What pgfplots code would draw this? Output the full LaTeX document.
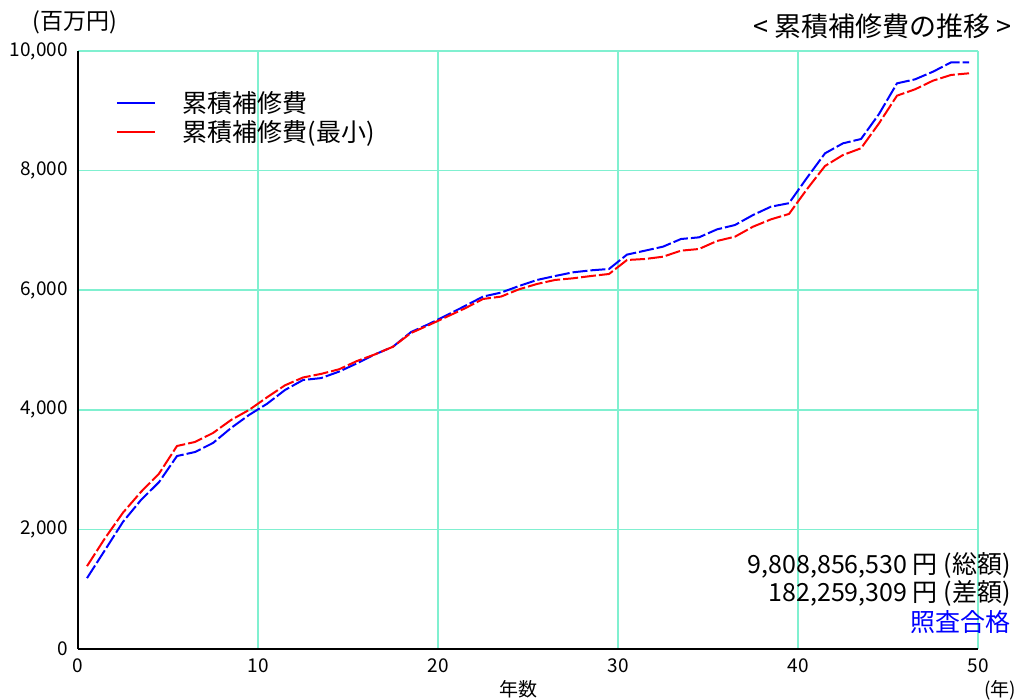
\documentclass[border=0pt]{standalone}
\usepackage{fontspec}
\setmainfont{Noto Sans CJK JP}
\usepackage{pgfplots}
\pgfplotsset{compat=1.18}
\definecolor{gridc}{RGB}{128,240,208}
\pgfplotstableread{
x y
0.5 1185
1.5 1655
2.5 2127
3.5 2492
4.5 2790
5.5 3227
6.5 3294
7.5 3445
8.5 3695
9.5 3913
10.5 4100
11.5 4331
12.5 4498
13.5 4530
14.5 4638
15.5 4777
16.5 4927
17.5 5055
18.5 5300
19.5 5435
20.5 5585
21.5 5736
22.5 5893
23.5 5960
24.5 6070
25.5 6171
26.5 6237
27.5 6299
28.5 6332
29.5 6355
30.5 6595
31.5 6661
32.5 6728
33.5 6856
34.5 6884
35.5 7017
36.5 7090
37.5 7257
38.5 7397
39.5 7455
40.5 7880
41.5 8289
42.5 8456
43.5 8528
44.5 8946
45.5 9459
46.5 9526
47.5 9654
48.5 9809
49.5 9809
}\blueTable
\pgfplotstableread{
x y
0.5 1385
1.5 1853
2.5 2280
3.5 2628
4.5 2932
5.5 3395
6.5 3462
7.5 3612
8.5 3829
9.5 3997
10.5 4208
11.5 4410
12.5 4540
13.5 4600
14.5 4677
15.5 4816
16.5 4927
17.5 5055
18.5 5284
19.5 5418
20.5 5557
21.5 5697
22.5 5853
23.5 5893
24.5 6015
25.5 6104
26.5 6171
27.5 6199
28.5 6237
29.5 6271
30.5 6505
31.5 6522
32.5 6560
33.5 6661
34.5 6689
35.5 6823
36.5 6895
37.5 7062
38.5 7185
39.5 7275
40.5 7690
41.5 8077
42.5 8261
43.5 8373
44.5 8790
45.5 9253
46.5 9359
47.5 9504
48.5 9599
49.5 9627
}\redTable
\begin{document}
\begin{tikzpicture}[x=1pt,y=1pt]
\useasboundingbox (0,0) rectangle (1019,699);
\begin{axis}[
  at={(78pt,50pt)}, anchor=south west,
  scale only axis, width=900pt, height=598pt,
  xmin=0, xmax=50, ymin=0, ymax=10000,
  xtick={0,10,...,50}, ytick={0,2000,...,10000},
  grid=major, major grid style={gridc, line width=1.5pt},
  axis lines*=left, axis line style={black, line width=1.8pt},
  major tick length=0pt,
  /pgf/number format/assume math mode=true,
  /pgf/number format/1000 sep={,},
  scaled y ticks=false,
  ticklabel style={font=\fontsize{19}{21}\selectfont, inner sep=0pt},
  yticklabel style={xshift=-10pt},
  xticklabel style={yshift=-10pt},
  legend cell align=left,
  legend style={draw=none, fill=none, inner sep=0pt, outer sep=0pt,
    at={(axis cs:2.12,9340)}, anchor=north west,
    font=\fontsize{25}{28}\selectfont,
    nodes={inner sep=0pt, text height=22pt, text depth=3pt},
    row sep=4pt,
    /tikz/every odd column/.append style={column sep=27pt}},
  legend image code/.code={\draw[#1, solid, line width=1.5pt] (0pt,0pt) -- (38pt,0pt);},
]
\addplot[blue, line width=2pt, dash pattern=on 15pt off 3pt] table[x=x,y=y] {\blueTable};
\addlegendentry{累積補修費}
\addplot[red, line width=2pt, dash pattern=on 15pt off 3pt] table[x=x,y=y] {\redTable};
\addlegendentry{累積補修費(最小)}
\end{axis}
\node[font=\fontsize{23}{26}\selectfont] at (75,677) {(百万円)};
\node[anchor=east, font=\fontsize{27}{30}\selectfont] at (1015,673) {< 累積補修費の推移 >};
\node[anchor=base east, font=\fontsize{25}{28}\selectfont] at (1014,126) {9,808,856,530 円 (総額)};
\node[anchor=base east, font=\fontsize{25}{28}\selectfont] at (1014,98) {182,259,309 円 (差額)};
\node[anchor=base east, font=\fontsize{25}{28}\selectfont, text=blue] at (1014,67.5) {照査合格};
\node[anchor=base, font=\fontsize{19}{22}\selectfont] at (518,3) {年数};
\node[anchor=base, font=\fontsize{19}{22}\selectfont] at (1000,3) {(年)};
\end{tikzpicture}
\end{document}
